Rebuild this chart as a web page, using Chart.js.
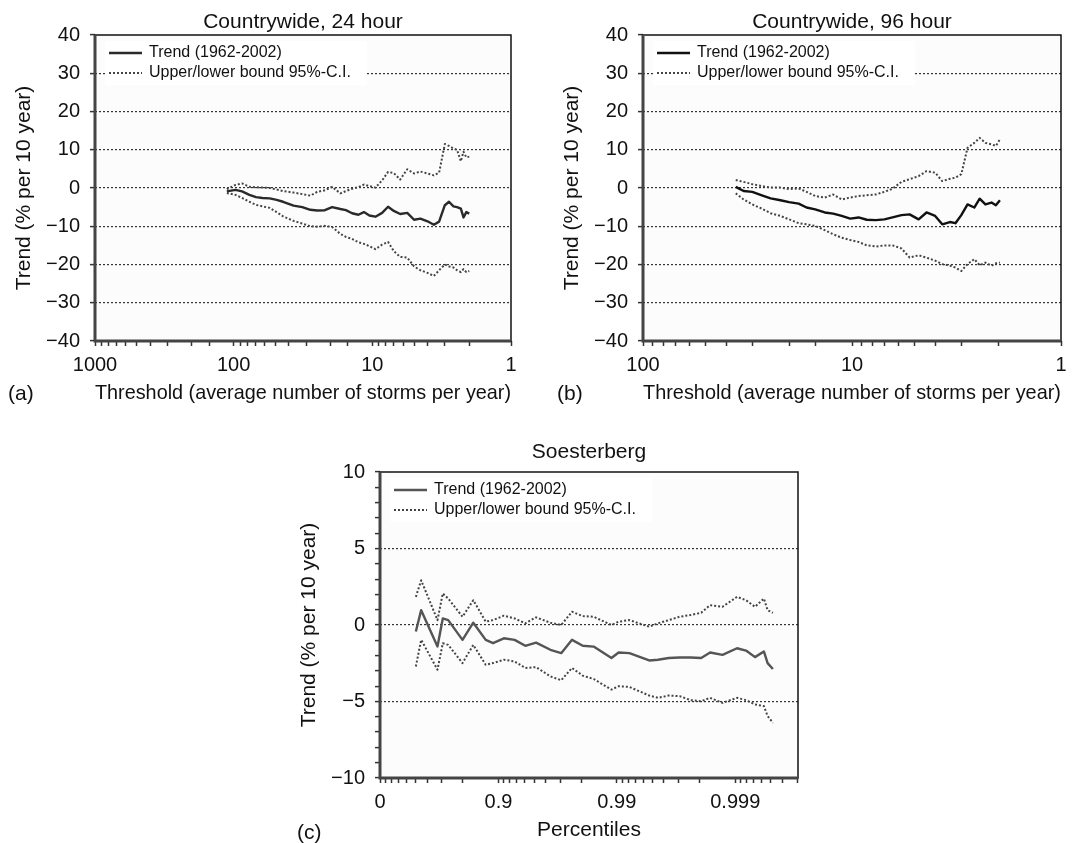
<!DOCTYPE html>
<html>
<head>
<meta charset="utf-8">
<script src="https://cdn.jsdelivr.net/npm/chart.js@4.4.1/dist/chart.umd.min.js"></script>
<style>
  body { margin: 0; background: #fff; font-family: "Liberation Sans", Arial, sans-serif; }
  #page { position: relative; width: 1087px; height: 843px; overflow: hidden; }
  canvas { position: absolute; }
  .title, .tag { position: absolute; font-size: 21px; line-height: 24px; color: #111; white-space: nowrap; }
  .title { width: 400px; text-align: center; }
</style>
</head>
<body>
<div id="page">
  <canvas id="chartA" width="540" height="420" style="left:0;top:0"></canvas>
  <canvas id="chartB" width="539" height="420" style="left:548px;top:0"></canvas>
  <canvas id="chartC" width="543" height="406" style="left:285px;top:437px"></canvas>
  <div class="title" style="left:103px;top:9px">Countrywide, 24 hour</div>
  <div class="title" style="left:652px;top:9px">Countrywide, 96 hour</div>
  <div class="title" style="left:389px;top:439px">Soesterberg</div>
  <div class="tag" style="left:8px;top:381px">(a)</div>
  <div class="tag" style="left:557px;top:381px">(b)</div>
  <div class="tag" style="left:297px;top:820px">(c)</div>
</div>
<script>
const FONT = '"Liberation Sans", Arial, sans-serif';
Chart.defaults.font.family = FONT;
Chart.defaults.color = "#111";

const trendLabel = "Trend (1962-2002)";
const ciLabel = "Upper/lower bound 95%-C.I.";

// (a) countrywide, 24 hour: threshold in storms per year
const aThreshold = [112, 97, 87, 77, 69, 62, 55, 49, 44, 37, 32, 28, 25, 22, 19.5, 17, 15.5, 14, 12.6, 11.5,
  10.5, 9.5, 8.5, 7.7, 7.0, 6.3, 5.6, 5.0, 4.5, 4.0, 3.6, 3.3, 3.0, 2.8, 2.6, 2.45, 2.3, 2.2, 2.1, 2.0];
const aTrend = [-0.9, -0.5, -0.9, -1.8, -2.4, -2.6, -2.7, -3.1, -3.6, -4.6, -5.0, -5.7, -5.9, -5.8, -5.0, -5.5, -5.8, -6.6, -7.0, -6.3,
  -7.2, -7.5, -6.5, -4.9, -6.0, -6.8, -6.5, -8.3, -8.0, -8.7, -9.6, -8.8, -4.5, -3.6, -4.8, -5.0, -5.4, -7.7, -6.3, -6.7];
const aUpper = [-0.3, 0.8, 1.2, 0.3, 0.2, 0.1, 0, -0.4, -0.8, -1.2, -1.6, -2.0, -1.0, -0.6, 0.3, -1.4, -0.8, -0.2, 0.2, 0.9,
  0.5, 0.1, 2.0, 4.2, 3.9, 2.2, 4.9, 3.8, 4.3, 3.8, 3.3, 4.0, 11.5, 11.0, 10.3, 10.0, 7.0, 9.5, 8.0, 8.2];
const aLower = [-1.3, -1.8, -2.6, -3.6, -4.4, -4.8, -5.2, -6.3, -7.4, -8.6, -9.3, -10.0, -10.1, -9.9, -10.2, -12.0, -12.8, -13.3, -14.2, -14.6,
  -15.2, -16.0, -14.8, -14.1, -16.5, -18.0, -18.2, -20.5, -21.5, -22.2, -23.0, -21.5, -20.0, -20.5, -20.8, -21.5, -22.0, -21.2, -22.0, -21.7];

// (b) countrywide, 96 hour
const bThreshold = [36, 33, 30, 27, 24.5, 22, 20, 18, 16.5, 15, 13.5, 12.3, 11.2, 10.2, 9.3, 8.5, 7.7, 7.0, 6.4, 5.8,
  5.3, 4.8, 4.4, 4.0, 3.7, 3.4, 3.2, 3.0, 2.8, 2.6, 2.45, 2.3, 2.15, 2.05, 1.96];
const bTrend = [0.3, -0.8, -1.0, -1.9, -2.7, -3.2, -3.7, -4.1, -5.1, -5.6, -6.4, -6.7, -7.3, -8.0, -7.7, -8.3, -8.4, -8.2, -7.7, -7.1,
  -6.9, -8.2, -6.4, -7.3, -9.5, -8.9, -9.2, -7.1, -4.3, -5.1, -2.8, -4.3, -3.8, -4.5, -3.2];
const bUpper = [2.1, 1.6, 1.0, 0.5, 0.1, 0.1, -0.3, -0.1, -1.0, -2.1, -2.5, -1.7, -3.0, -2.5, -2.1, -1.9, -1.7, -1.0, -0.2, 1.6,
  2.3, 3.1, 4.4, 4.0, 1.8, 2.4, 2.7, 3.6, 10.5, 11.8, 13.1, 11.8, 11.4, 11.0, 12.7];
const bLower = [-1.4, -3.0, -4.3, -5.4, -6.6, -7.3, -8.2, -9.2, -9.5, -9.9, -11.0, -12.1, -13.0, -13.6, -14.1, -15.0, -15.3, -15.0, -15.0, -15.8,
  -18.2, -17.6, -18.2, -19.0, -19.9, -20.3, -20.8, -21.7, -19.9, -18.6, -20.2, -19.5, -20.3, -19.7, -19.5];

// (c) Soesterberg: percentiles
const cPercentile = [0.502, 0.551, 0.673, 0.705, 0.7345, 0.799, 0.837, 0.872, 0.889, 0.910, 0.927, 0.9407, 0.9519, 0.9636, 0.9705,
  0.9761, 0.9806, 0.9843, 0.9889, 0.99034, 0.99217, 0.99467, 0.99551, 0.99636, 0.99705, 0.99761, 0.99806, 0.99837, 0.99872,
  0.999034, 0.999189, 0.999319, 0.999427, 0.999467, 0.999519];
const cTrend = [-0.43, 0.97, -1.4, 0.43, 0.32, -0.97, 0.15, -0.97, -1.19, -0.87, -0.97, -1.36, -1.15, -1.62, -1.84,
  -0.97, -1.36, -1.41, -2.16, -1.80, -1.84, -2.32, -2.27, -2.16, -2.12, -2.12, -2.16, -1.80, -1.95, -1.52, -1.67, -2.10, -1.73, -2.49, -2.88];
const cUpper = [1.84, 2.92, 0.32, 2.06, 1.73, 0.54, 1.62, 0.22, 0.32, 0.61, 0.43, 0.11, 0.50, 0.15, 0,
  0.87, 0.58, 0.54, 0, 0.22, 0.32, -0.11, 0.11, 0.32, 0.54, 0.65, 0.80, 1.30, 1.19, 1.84, 1.62, 1.19, 1.73, 0.97, 0.80];
const cLower = [-2.71, -0.97, -2.92, -1.19, -1.30, -2.49, -1.30, -2.60, -2.49, -2.27, -2.38, -2.81, -2.75, -3.36, -3.61,
  -2.81, -3.31, -3.53, -4.22, -4.00, -4.05, -4.61, -4.76, -4.61, -4.65, -4.91, -4.98, -4.76, -5.09, -4.76, -4.91, -5.19, -5.30, -5.95, -6.39];
const cTickLabels = ["0", "0.9", "0.99", "0.999"];

// percentile axis runs in -log10(1 - p)
const toExceed = p => -Math.log10(1 - p);
const cTickPositions = [];
cTickLabels.forEach((_, n) => {
  cTickPositions.push(n);
  for (let k = 1; k <= 8; k++) {
    const t = n + toExceed(k / 10);
    if (t <= 3.53) cTickPositions.push(t);
  }
});

const fmtMinus = v => (v < 0 ? "\u2212" + Math.abs(v) : String(v));

function lineSets(xs, trend, upper, lower, trendColor) {
  const pts = ys => xs.map((x, i) => ({ x, y: ys[i] }));
  const common = { pointRadius: 0, tension: 0, fill: false, borderJoinStyle: "round" };
  return [
    { ...common, label: trendLabel, data: pts(trend), borderColor: trendColor, borderWidth: 2.4 },
    { ...common, label: ciLabel, data: pts(upper), borderColor: "#444", borderWidth: 2, borderDash: [2, 2] },
    { ...common, label: "", data: pts(lower), borderColor: "#444", borderWidth: 2, borderDash: [2, 2] }
  ];
}

const framePlugin = {
  id: "frame",
  beforeDraw(chart) {
    const { ctx, chartArea: a } = chart;
    ctx.save();
    ctx.fillStyle = "#fcfcfc";
    ctx.fillRect(a.left, a.top, a.right - a.left, a.bottom - a.top);
    ctx.restore();
  },
  afterDraw(chart) {
    const { ctx, chartArea: a } = chart;
    ctx.save();
    ctx.strokeStyle = "#111";
    ctx.lineWidth = 1.5;
    ctx.strokeRect(a.left, a.top, a.right - a.left, a.bottom - a.top);
    ctx.strokeStyle = "#444";
    ctx.lineWidth = 3;
    ctx.beginPath();
    ctx.moveTo(a.left, a.top);
    ctx.lineTo(a.left, a.bottom);
    ctx.lineTo(a.right, a.bottom);
    ctx.stroke();
    ctx.restore();
  }
};

// legend drawn inside the plot, top left, over a white patch
const insetLegend = {
  id: "insetLegend",
  afterDatasetsDraw(chart) {
    const { ctx, chartArea: a } = chart;
    const items = chart.data.datasets.filter(d => d.label);
    ctx.save();
    ctx.fillStyle = "#fff";
    ctx.fillRect(a.left + 10, a.top + 6, 262, 44);
    ctx.font = "16px " + FONT;
    ctx.textBaseline = "middle";
    items.forEach((d, i) => {
      const y = a.top + 18 + i * 20;
      ctx.strokeStyle = d.borderColor;
      ctx.lineWidth = d.borderWidth;
      ctx.setLineDash(d.borderDash || []);
      ctx.beginPath();
      ctx.moveTo(a.left + 14, y);
      ctx.lineTo(a.left + 47, y);
      ctx.stroke();
      ctx.setLineDash([]);
      ctx.fillStyle = "#111";
      ctx.fillText(d.label, a.left + 54, y);
    });
    ctx.restore();
  }
};

function yScale(min, max, step, labelEvery) {
  return {
    min, max,
    afterFit: s => { s.width = 95; },
    ticks: {
      stepSize: step, autoSkip: false, padding: 10, font: { size: 20 }, color: "#111",
      callback: v => (Math.round(v) % labelEvery === 0 ? fmtMinus(Math.round(v)) : "")
    },
    grid: {
      color: c => {
        const v = c.tick ? Math.round(c.tick.value) : 0;
        return Math.abs(v) < max && v % labelEvery === 0 ? "#333" : "rgba(0,0,0,0)";
      },
      lineWidth: 1.2, tickLength: 5, tickColor: "#333", tickWidth: 1.5
    },
    border: { display: false, dash: [2, 2] },
    title: { display: true, text: "Trend (% per 10 year)", font: { size: 21 }, color: "#111", padding: { top: 12, bottom: 0 } }
  };
}

function xCommon(height, title, titlePad) {
  return {
    afterFit: s => { s.height = height; },
    grid: { drawOnChartArea: false, drawTicks: true, tickLength: 5, tickColor: "#333", tickWidth: 1.5 },
    border: { display: false },
    title: { display: true, text: title, font: { size: 21 }, color: "#111", padding: { top: 0, bottom: titlePad } }
  };
}

const isDecade = v => {
  const e = Math.round(Math.log10(v));
  return Math.abs(v - Math.pow(10, e)) < 1e-9;
};

function thresholdChart(id, xs, trend, upper, lower, maxX, trendColor, padRight) {
  const x = xCommon(79, "Threshold (average number of storms per year)", 14);
  x.type = "logarithmic";
  x.min = 1;
  x.max = maxX;
  x.reverse = true;
  x.ticks = {
    autoSkip: false, maxRotation: 0, minRotation: 0, padding: 7, font: { size: 20 }, color: "#111",
    callback: v => (isDecade(v) ? String(Math.round(v)) : "")
  };
  return new Chart(document.getElementById(id), {
    type: "line",
    data: { datasets: lineSets(xs, trend, upper, lower, trendColor) },
    options: {
      responsive: false, animation: false, devicePixelRatio: 1,
      layout: { padding: { top: 35, right: padRight, left: 0, bottom: 0 } },
      plugins: { legend: { display: false }, tooltip: { enabled: false } },
      scales: { x, y: yScale(-40, 40, 10, 10) }
    },
    plugins: [framePlugin, insetLegend]
  });
}

thresholdChart("chartA", aThreshold, aTrend, aUpper, aLower, 1000, "#2a2a2a", 29);
thresholdChart("chartB", bThreshold, bTrend, bUpper, bLower, 100, "#111", 26);

const cX = xCommon(65, "Percentiles", 0);
cX.type = "linear";
cX.min = 0;
cX.max = 3.53;
cX.afterBuildTicks = s => { s.ticks = cTickPositions.map(v => ({ value: v })); };
cX.ticks = {
  autoSkip: false, maxRotation: 0, minRotation: 0, padding: 7, font: { size: 20 }, color: "#111",
  callback: v => (Number.isInteger(v) && cTickLabels[v] !== undefined ? cTickLabels[v] : "")
};

new Chart(document.getElementById("chartC"), {
  type: "line",
  data: { datasets: lineSets(cPercentile.map(toExceed), cTrend, cUpper, cLower, "#555") },
  options: {
    responsive: false, animation: false, devicePixelRatio: 1,
    layout: { padding: { top: 35, right: 30, left: 0, bottom: 0 } },
    plugins: { legend: { display: false }, tooltip: { enabled: false } },
    scales: { x: cX, y: yScale(-10, 10, 1, 5) }
  },
  plugins: [framePlugin, insetLegend]
});
</script>
</body>
</html>
